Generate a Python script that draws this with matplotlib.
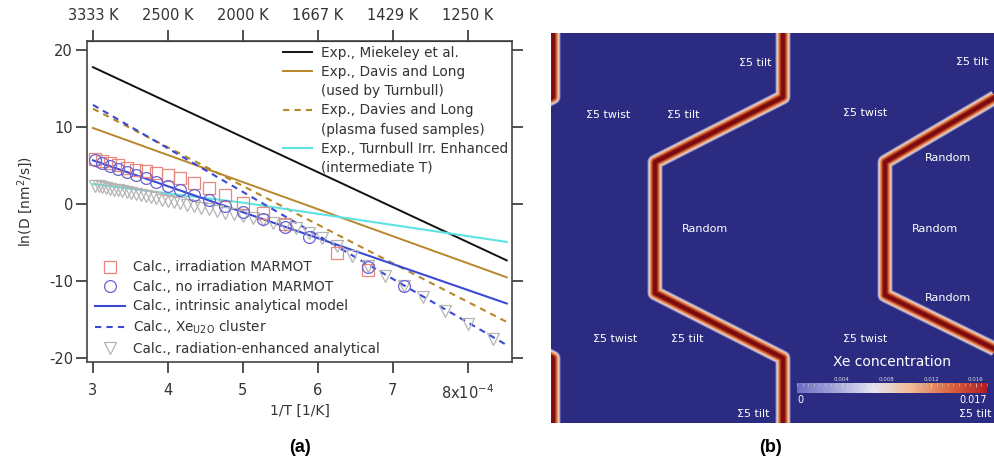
import numpy as np
import matplotlib
matplotlib.use("Agg")
import matplotlib.pyplot as plt
from matplotlib.colors import LinearSegmentedColormap, Normalize
from matplotlib.cm import ScalarMappable
from matplotlib.lines import Line2D
from matplotlib.ticker import MultipleLocator

plt.rcParams['font.family'] = ['DejaVu Sans']
plt.rcParams['axes.unicode_minus'] = False
plt.rcParams['mathtext.default'] = 'regular'

# ---------------- panel (a) data: ln(D) vs 1/T, x in units of 1e-4 1/K
miekeley_x = [3.0, 8.52]
miekeley_y = [17.8, -7.3]
davis_x = [3.0, 8.52]
davis_y = [9.9, -9.5]
davies_x = [3.0, 8.52]
davies_y = [12.4, -15.3]
turnbull_x = [3.0, 5.0, 8.52]
turnbull_y = [2.6, 0.2, -4.9]
intrinsic_x = [3.0, 8.52]
intrinsic_y = [5.7, -12.9]
cluster_x = [3.0, 8.52]
cluster_y = [12.9, -18.3]

irr_x = [3.030, 3.125, 3.226, 3.333, 3.448, 3.571, 3.704, 3.846, 4.000,
         4.167, 4.348, 4.545, 4.762, 5.000, 5.263, 5.556, 6.250, 6.667]
irr_y = [5.85, 5.6, 5.3, 5.05, 4.7, 4.5, 4.25, 4.05, 3.75,
         3.35, 2.75, 2.1, 1.2, 0.1, -1.1, -2.6, -6.4, -8.6]

noirr_x = [3.030, 3.125, 3.226, 3.333, 3.448, 3.571, 3.704, 3.846, 4.000,
           4.167, 4.348, 4.545, 4.762, 5.000, 5.263, 5.556, 5.882, 6.667, 7.143]
noirr_y = [5.7, 5.3, 5.0, 4.6, 4.2, 3.8, 3.35, 2.9, 2.4,
           1.8, 1.2, 0.5, -0.2, -1.0, -1.9, -3.0, -4.2, -8.1, -10.6]

radenh_x = [3.030, 3.077, 3.125, 3.175, 3.226, 3.279, 3.333, 3.390, 3.448,
            3.509, 3.571, 3.636, 3.704, 3.774, 3.846, 3.922, 4.000, 4.082,
            4.167, 4.255, 4.348, 4.444, 4.545, 4.651, 4.762, 4.878, 5.000,
            5.128, 5.263, 5.405, 5.556, 5.714, 5.882, 6.061, 6.250, 6.452,
            6.667, 6.897, 7.143, 7.407, 7.692, 8.000, 8.333]
radenh_y = [2.40, 2.30, 2.20, 2.10, 2.00, 1.90, 1.78, 1.66, 1.55,
            1.42, 1.30, 1.17, 1.03, 0.89, 0.75, 0.60, 0.44, 0.28,
            0.11, -0.07, -0.25, -0.45, -0.65, -0.86, -1.08, -1.31, -1.55,
            -1.80, -2.07, -2.40, -2.75, -3.15, -3.70, -4.45, -5.45, -6.70,
            -8.00, -9.30, -10.65, -12.10, -13.85, -15.60, -17.45]

x_ticks = [3, 4, 5, 6, 7, 8]
x_ticklabels = ['3', '4', '5', '6', '7', '8x10$^{-4}$']
top_ticklabels = ['3333 K', '2500 K', '2000 K', '1667 K', '1429 K', '1250 K']
y_ticks = [20, 10, 0, -10, -20]

# ---------------- panel (b) data: grain boundary paths (image pixels)
gb_paths = [
    ([232, 232, 104, 104, 232, 232], [-10, 64, 129, 260, 325, 400]),
    ([460, 460, 334, 334, 462, 462], [-10, 55, 129, 262, 325, 400]),
    ([2, 2, -126, -126, 2, 2], [-10, 64, 129, 260, 325, 400]),
]
gb_labels = ['Σ5 tilt', 'Σ5 tilt', 'Σ5 twist', 'Σ5 tilt', 'Σ5 twist', 'Random',
             'Random', 'Random', 'Random', 'Σ5 twist', 'Σ5 tilt', 'Σ5 twist',
             'Σ5 tilt', 'Σ5 tilt']
gb_label_x = [204, 421, 57, 132, 314, 397, 154, 384, 397, 64, 136, 314, 202, 424]
gb_label_y = [30, 29, 82, 82, 80, 125, 196, 196, 265, 306, 306, 306, 381, 381]
cbar_max = 0.017
cbar_ticks = [0.004, 0.008, 0.012, 0.016]

fig = plt.figure(figsize=(9.94, 4.66), dpi=100)

# ================= (a)
ax = fig.add_axes([87 / 994, 1 - 362 / 466, 425 / 994, 321 / 466])
brown = '#b8862c'
blue = '#3a4ad4'
ax.plot(miekeley_x, miekeley_y, color='#111111', lw=1.4)
ax.plot(davis_x, davis_y, color=brown, lw=1.4)
ax.plot(davies_x, davies_y, color=brown, lw=1.5, dashes=(3, 2.5))
ax.plot(turnbull_x, turnbull_y, color='#5fe3e0', lw=1.5)
ax.plot(intrinsic_x, intrinsic_y, color=blue, lw=1.5)
ax.plot(cluster_x, cluster_y, color=blue, lw=1.5, dashes=(3, 2.5))
ax.plot(radenh_x, radenh_y, linestyle='none', marker='v', ms=8.5, mfc='none',
        mec='#b4b4b4', mew=0.9)
ax.plot(irr_x, irr_y, linestyle='none', marker='s', ms=8, mfc='none',
        mec='#e8877e', mew=0.9)
ax.plot(noirr_x, noirr_y, linestyle='none', marker='o', ms=8.5, mfc='none',
        mec='#6a62d2', mew=0.9)

ax.set_xlim(2.92, 8.59)
ax.set_ylim(-20.5, 21.2)
ax.set_xticks(x_ticks)
ax.set_xticklabels(x_ticklabels)
ax.set_yticks(y_ticks)
ax.tick_params(direction='out', length=8, width=1.2, labelsize=10.5,
               colors='#333333', labelcolor='#333333', right=True)
ax.tick_params(axis='x', pad=7)
ax.tick_params(axis='y', pad=2)
for s in ax.spines.values():
    s.set_linewidth(1.2)
    s.set_color('#444444')
ax.set_xlabel('1/T [1/K]', fontsize=10, color='#333333', labelpad=2)
ax.set_ylabel('ln(D [nm$^2$/s])', fontsize=10, color='#333333', labelpad=10)

top = ax.secondary_xaxis('top')
top.set_xticks(x_ticks)
top.set_xticklabels(top_ticklabels)
top.tick_params(direction='out', length=8, width=1.2, labelsize=10.5,
                colors='#333333', pad=5)

blank = Line2D([], [], linestyle='none')
h1 = [Line2D([], [], color='#111111', lw=1.4),
      Line2D([], [], color=brown, lw=1.4), blank,
      Line2D([], [], color=brown, lw=1.5, dashes=(3, 2.5)), blank,
      Line2D([], [], color='#5fe3e0', lw=1.5), blank]
l1 = ['Exp., Miekeley et al.', 'Exp., Davis and Long', '(used by Turnbull)',
      'Exp., Davies and Long', '(plasma fused samples)',
      'Exp., Turnbull Irr. Enhanced', '(intermediate T)']
leg1 = ax.legend(h1, l1, loc='upper left', bbox_to_anchor=(0.46, 0.985),
                 frameon=False, fontsize=9.8, handlelength=2.2,
                 handletextpad=0.6, labelspacing=0.38, borderpad=0,
                 borderaxespad=0)
for t in leg1.get_texts():
    t.set_color('#333333')
ax.add_artist(leg1)

h2 = [Line2D([], [], linestyle='none', marker='s', ms=8, mfc='none',
             mec='#e8877e', mew=0.9),
      Line2D([], [], linestyle='none', marker='o', ms=8.5, mfc='none',
             mec='#6a62d2', mew=0.9),
      Line2D([], [], color=blue, lw=1.5),
      Line2D([], [], color=blue, lw=1.5, dashes=(3, 2.5)),
      Line2D([], [], linestyle='none', marker='v', ms=8.5, mfc='none',
             mec='#b4b4b4', mew=0.9)]
l2 = ['Calc., irradiation MARMOT', 'Calc., no irradiation MARMOT',
      'Calc., intrinsic analytical model', 'Calc., Xe$_{U2O}$ cluster',
      'Calc., radiation-enhanced analytical']
leg2 = ax.legend(h2, l2, loc='lower left', bbox_to_anchor=(0.018, 0.02),
                 frameon=False, fontsize=9.8, handlelength=2.2,
                 handletextpad=0.6, labelspacing=0.4, borderpad=0,
                 borderaxespad=0)
for t in leg2.get_texts():
    t.set_color('#333333')

# ================= (b)
navy = '#2b2b82'
field_cmap = LinearSegmentedColormap.from_list(
    'field', [(0.0, navy), (0.25, '#8080c4'), (0.42, '#ead8d8'),
              (0.55, '#f0b888'), (0.72, '#d8703c'), (0.88, '#a82418'),
              (1.0, '#7a0c10')])
axb = fig.add_axes([551 / 994, 1 - 423 / 466, 443 / 994, 390 / 466])
axb.set_facecolor(navy)
axb.set_xlim(0, 443)
axb.set_ylim(390, 0)
axb.set_xticks([])
axb.set_yticks([])
for s in axb.spines.values():
    s.set_visible(False)

glow_widths = [11, 9.8, 8.5, 7, 5.5, 4, 2.5]
glow_levels = [0.2, 0.36, 0.5, 0.64, 0.76, 0.88, 1.0]
for gx, gy in gb_paths:
    for w, lev in zip(glow_widths, glow_levels):
        axb.plot(gx, gy, color=field_cmap(lev), lw=w,
                 solid_joinstyle='round', solid_capstyle='butt')

for lab, lx, ly in zip(gb_labels, gb_label_x, gb_label_y):
    axb.text(lx, ly, lab, color='white', fontsize=8, ha='center', va='center')

axb.text(341, 329, 'Xe concentration', color='white', fontsize=10,
         ha='center', va='center')
axb.text(246, 367, '0', color='white', fontsize=7, ha='left', va='center')
axb.text(436, 367, '0.017', color='white', fontsize=7, ha='right', va='center')

bar_cmap = LinearSegmentedColormap.from_list(
    'bar', ['#6c6cc0', '#a4a4da', '#e6e4f0', '#f0bc94', '#da6840', '#b41c22'])
cax = fig.add_axes([797 / 994, 1 - 393 / 466, 190 / 994, 10 / 466])
sm = ScalarMappable(norm=Normalize(0, cbar_max), cmap=bar_cmap)
cb = fig.colorbar(sm, cax=cax, orientation='horizontal')
cb.outline.set_visible(False)
cax.xaxis.set_ticks_position('top')
cb.set_ticks(cbar_ticks)
cb.set_ticklabels([f'{v:.3f}' for v in cbar_ticks])
cax.xaxis.set_minor_locator(MultipleLocator(0.0005))
cax.tick_params(which='major', labelsize=4, colors='#dddddd', length=3,
                width=0.5, direction='in', pad=1)
cax.tick_params(which='minor', colors='#cccccc', length=2, width=0.4,
                direction='in', top=True, bottom=False)

fig.text(300 / 994, 1 - 447 / 466, '(a)', fontsize=13, fontweight='bold',
         family='Liberation Sans', ha='center', va='center')
fig.text(770 / 994, 1 - 447 / 466, '(b)', fontsize=13, fontweight='bold',
         family='Liberation Sans', ha='center', va='center')

fig.savefig('out.png', dpi=100)
